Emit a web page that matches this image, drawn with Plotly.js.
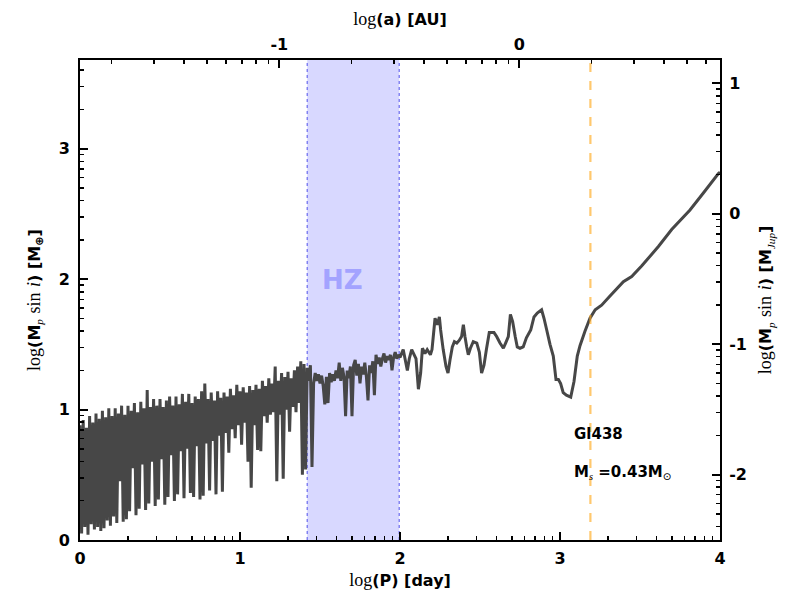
<!DOCTYPE html>
<html>
<head>
<meta charset="utf-8">
<script src="https://cdn.plot.ly/plotly-3.0.1.min.js"></script>
<style>html,body{margin:0;padding:0;background:#fff;}#chart{width:800px;height:600px;}</style>
</head>
<body>
<div id="chart"></div>
<script>
// ---- data: log(P) [day] vs log(Mp sin i) [M_earth] ----
var xA = [0.00,0.01,0.02,0.03,0.04,0.05,0.06,0.07,0.08,0.09,
          0.10,0.11,0.12,0.13,0.14,0.15,0.16,0.17,0.18,0.19,
          0.20,0.21,0.22,0.23,0.24,0.25,0.26,0.27,0.28,0.29,
          0.30,0.31,0.32,0.33,0.34,0.35,0.36,0.37,0.38,0.39,
          0.40,0.41,0.42,0.43,0.44,0.45,0.46,0.47,0.48,0.49,
          0.50,0.51,0.52,0.53,0.54,0.55,0.56,0.57,0.58,0.59,
          0.60,0.61,0.62,0.63,0.64,0.65,0.66,0.67,0.68,0.69,
          0.70,0.71,0.72,0.73,0.74,0.75,0.76,0.77,0.78,0.79,
          0.80,0.81,0.82,0.83,0.84,0.85,0.86,0.87,0.88,0.89,
          0.90,0.91,0.92,0.93,0.94,0.95,0.96,0.97,0.98,0.99];
var yA = [0.88,0.05,0.92,0.10,0.86,0.04,0.95,0.12,0.90,0.08,
          0.97,0.10,0.93,0.07,0.99,0.09,0.94,0.15,1.01,0.11,
          0.95,0.18,1.01,0.13,0.97,0.45,1.03,0.14,0.96,0.16,
          1.03,0.22,0.99,0.55,1.05,0.19,0.98,0.24,1.06,0.58,
          1.01,0.23,1.15,0.28,1.02,0.60,1.08,0.26,1.03,0.31,
          1.08,0.62,1.02,0.27,1.07,0.33,1.10,0.65,1.03,0.30,
          1.10,0.35,1.04,0.68,1.12,0.32,1.06,0.70,1.12,0.36,
          1.05,0.33,1.10,0.72,1.08,0.31,1.14,0.34,1.20,0.74,
          1.08,0.38,1.13,0.76,1.07,0.35,1.14,0.80,1.09,0.37,
          1.13,0.82,1.10,0.67,1.16,0.85,1.11,0.78,1.19,0.88];
var xB = [1.00,1.01,1.02,1.03,1.04,1.05,1.06,1.07,1.08,1.09,
          1.10,1.11,1.12,1.13,1.14,1.15,1.16,1.17,1.18,1.19,
          1.20,1.21,1.22,1.23,1.24,1.25,1.26,1.27,1.28,1.29,
          1.30,1.31,1.32,1.33,1.34,1.35,1.36,1.37,1.38,1.39,
          1.40,1.41,1.42,1.43,1.44,1.45,1.46,1.47,1.48,1.49,
          1.50,1.51,1.52,1.53,1.54,1.55,1.56,1.57,1.58,1.59,
          1.60,1.61,1.62,1.63,1.64,1.65,1.66,1.67,1.68,1.69,
          1.70,1.71,1.72,1.73,1.74,1.75,1.76,1.77,1.78,1.79,
          1.80,1.81,1.82,1.83,1.84,1.85,1.86,1.87,1.88,1.89,
          1.90,1.91,1.92,1.93,1.94,1.95,1.96,1.97,1.98,1.99,2.00];
var yB = [1.14,0.73,1.17,0.90,1.13,0.60,1.18,0.40,1.15,0.88,
          1.19,0.69,1.16,0.68,1.22,0.95,1.18,0.90,1.24,0.96,
          1.20,0.98,1.33,0.45,1.22,0.96,1.28,0.47,1.25,1.00,
          1.29,0.83,1.24,1.02,1.30,0.98,1.33,1.05,1.37,0.50,
          1.35,0.54,1.32,1.22,1.34,0.56,1.20,1.28,1.22,1.27,
          1.20,1.26,1.18,1.04,1.25,1.05,1.28,1.21,1.27,1.22,
          1.30,1.24,1.36,1.22,1.32,1.25,0.95,1.30,1.24,1.33,
          0.95,1.34,1.38,1.26,1.35,1.20,1.33,1.27,1.36,1.25,
          1.07,1.34,1.28,1.37,1.11,1.42,1.35,1.40,1.33,1.39,
          1.43,1.36,1.41,1.38,1.42,1.30,1.40,1.44,1.39,1.42,1.40];
var xC = [2.02,2.046,2.058,2.073,2.10,2.115,2.129,2.14,2.156,2.17,
          2.19,2.2,2.208,2.219,2.233,2.246,2.254,2.27,2.2875,2.30,
          2.3125,2.327,2.34,2.355,2.37,2.385,2.396,2.406,2.417,2.427,
          2.44,2.458,2.48,2.496,2.51,2.525,2.54,2.558,2.573,2.5875,
          2.604,2.625,2.646,2.66,2.677,2.69,2.704,2.72,2.733,2.75,
          2.77,2.79,2.817,2.8375,2.858,2.885,2.90,2.917,2.9375,2.958,
          2.975,2.99,3.004,3.02,3.04,3.067,3.0875,3.108,3.125,3.156,
          3.1875,3.22,3.26,3.3125,3.396,3.448,3.51,3.615,3.698,3.8125,
          3.896,3.99,4.0];
var yC = [1.46,1.30,1.39,1.46,1.39,1.156,1.28,1.47,1.43,1.46,
          1.42,1.46,1.56,1.70,1.65,1.71,1.61,1.46,1.33,1.28,
          1.38,1.48,1.52,1.51,1.53,1.56,1.65,1.56,1.48,1.42,
          1.47,1.52,1.51,1.44,1.28,1.34,1.46,1.59,1.59,1.59,
          1.56,1.51,1.47,1.51,1.56,1.73,1.675,1.56,1.48,1.47,
          1.48,1.55,1.61,1.71,1.74,1.765,1.70,1.61,1.50,1.41,
          1.23,1.23,1.20,1.13,1.11,1.095,1.215,1.41,1.49,1.60,
          1.70,1.765,1.80,1.87,1.98,2.02,2.10,2.25,2.38,2.53,
          2.66,2.81,2.82];

// habitable zone and marker line (log P)
var hzRange = [1.42, 1.995];
var markerLogP = 3.19;

// tick labels
var xTicks = [0,1,2,3,4];
var yTicks = [0,1,2,3];
var topTicks = [-1,0];
var rightTicks = [-2,-1,0,1];

// axis ranges
var xRange = [0,4];
var yRange = [0,3.68];
var topRange = [-1.8305, 0.8362];
var rightRange = [-2.502, 1.178];

function logMinor(range){
  var out=[];
  for(var n=Math.floor(range[0])-1;n<=Math.ceil(range[1]);n++){
    for(var k=2;k<=9;k++){
      var v=n+Math.log10(k);
      if(v>range[0]+1e-6 && v<range[1]-1e-6) out.push(v);
    }
  }
  return out;
}

var serif = "font-family:'Liberation Serif',serif;font-weight:normal";
var serifI = "font-family:'Liberation Serif',serif;font-weight:normal;font-style:italic";

var tickFont = {family:'DejaVu Sans', size:16, color:'#000', weight:'bold'};
var titleFont = {family:'DejaVu Sans', size:16, color:'#000', weight:'bold'};

function axisBase(range, ticks, minorRange, standoff){
  return {
    range: range, autorange:false,
    tickmode:'array', tickvals: ticks, ticktext: ticks.map(String),
    ticks:'inside', ticklen:8, tickwidth:2, tickcolor:'#000',
    ticklabelstandoff: standoff,
    showline:true, linewidth:2, linecolor:'#000',
    showgrid:false, zeroline:false,
    tickfont: tickFont,
    minor:{tickmode:'array', tickvals: logMinor(minorRange), ticks:'inside', ticklen:4, tickwidth:1.5, tickcolor:'#000', showgrid:false}
  };
}

var xaxis = axisBase(xRange, xTicks, xRange, 3);
xaxis.title = {text:"<span style=\""+serif+";font-size:18px\">log</span>(P) [day]", font:titleFont, standoff:8};
var xaxis2 = axisBase(topRange, topTicks, topRange, 2);
xaxis2.overlaying='x'; xaxis2.side='top'; xaxis2.anchor='y';
xaxis2.title = {text:"<span style=\""+serif+";font-size:18px\">log</span>(a) [AU]", font:titleFont, standoff:5};
var yaxis = axisBase(yRange, yTicks, yRange, 5);
yaxis.title = {text:"<span style=\""+serif+";font-size:18px\">log</span>(M<sub><span style=\""+serifI+"\">p</span></sub> <span style=\""+serif+";font-size:18px\">sin</span> <span style=\""+serifI+";font-size:18px\">i</span>) [M<sub>⊕</sub>]", font:titleFont, standoff:14};
var yaxis2 = axisBase(rightRange, rightTicks, rightRange, 4);
yaxis2.overlaying='y'; yaxis2.side='right'; yaxis2.anchor='x';
yaxis2.title = {text:"<span style=\""+serif+";font-size:18px\">log</span>(M<sub><span style=\""+serifI+"\">p</span></sub> <span style=\""+serif+";font-size:18px\">sin</span> <span style=\""+serifI+";font-size:18px\">i</span>) [M<sub><span style=\""+serifI+"\">Jup</span></sub>]", font:titleFont, standoff:14};

var traces = [
  {x: xA.concat(xB, xC), y: yA.concat(yB, yC), type:'scatter', mode:'lines',
   line:{color:'#474747', width:3, simplify:false}, hoverinfo:'skip', showlegend:false},
  {x:[], y:[], xaxis:'x2', yaxis:'y2', type:'scatter', mode:'lines', showlegend:false}
];

var layout = {
  width:800, height:600,
  margin:{l:80, r:80, t:60, b:60},
  paper_bgcolor:'#fff', plot_bgcolor:'#fff',
  showlegend:false,
  xaxis:xaxis, xaxis2:xaxis2, yaxis:yaxis, yaxis2:yaxis2,
  shapes:[
    {type:'rect', xref:'x', yref:'paper', x0:hzRange[0], x1:hzRange[1], y0:0, y1:1,
     fillcolor:'rgba(200,200,255,0.7)', line:{width:0}, layer:'below'},
    {type:'line', xref:'x', yref:'paper', x0:hzRange[0], x1:hzRange[0], y0:0, y1:1,
     line:{color:'#6a6aee', width:1.2, dash:'dot'}, layer:'below'},
    {type:'line', xref:'x', yref:'paper', x0:hzRange[1], x1:hzRange[1], y0:0, y1:1,
     line:{color:'#6a6aee', width:1.2, dash:'dot'}, layer:'below'},
    {type:'line', xref:'x', yref:'paper', x0:markerLogP, x1:markerLogP, y0:0, y1:1,
     line:{color:'rgba(255,170,30,0.65)', width:2.2, dash:'dash'}, layer:'above'}
  ],
  annotations:[
    {xref:'x', yref:'y', x:1.64, y:1.99, text:'<b>HZ</b>', showarrow:false,
     font:{family:'DejaVu Sans', size:26, color:'#a3a3ff'}},
    {xref:'x', yref:'y', x:3.075, y:0.813, xanchor:'left', text:'<b>Gl438</b>', showarrow:false,
     font:{family:'DejaVu Sans', size:15, color:'#000'}},
    {xref:'x', yref:'y', x:3.075, y:0.52, xanchor:'left',
     text:"<b>M</b><sub><span style=\""+serifI+"\">s</span></sub><b> =0.43M</b><sub>⊙</sub>", showarrow:false,
     font:{family:'DejaVu Sans', size:15, color:'#000'}}
  ]
};

Plotly.newPlot('chart', traces, layout, {displayModeBar:false, staticPlot:true});
</script>
</body>
</html>
